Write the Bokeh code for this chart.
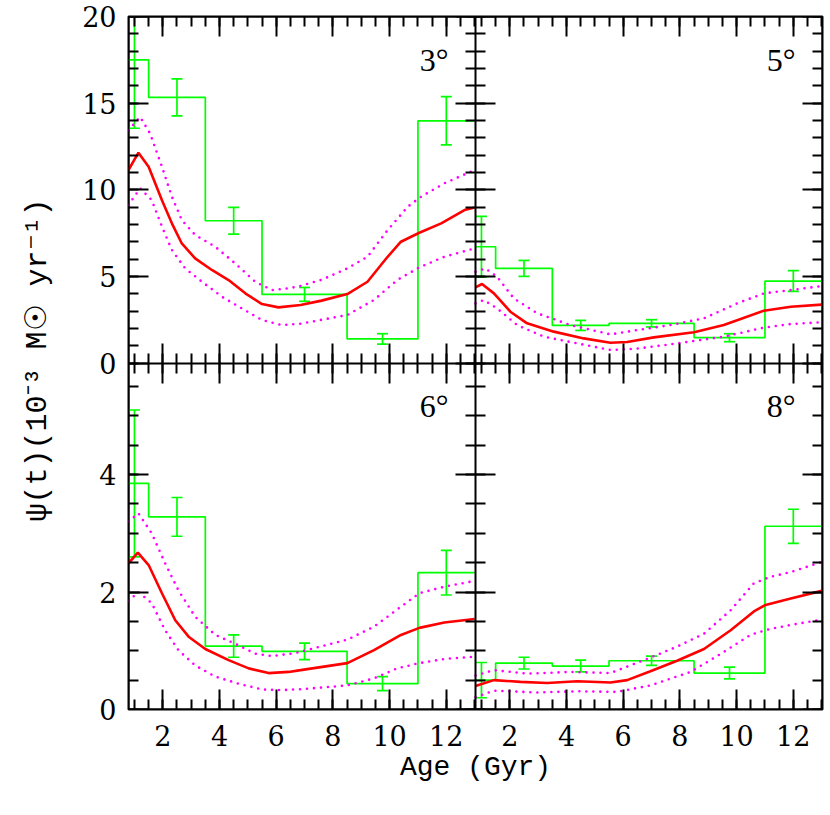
import numpy as np
from bokeh.plotting import figure
from bokeh.models import (Range1d, LinearAxis, SingleIntervalTicker, FixedTicker, Label,
                          CustomJSTickFormatter)
from bokeh.embed import file_html
from bokeh.resources import INLINE

# ---------------- data ----------------
age_min, age_max = 0.79, 13.03
psi_top_max, psi_bottom_max = 20.0, 5.9

x_tick_values = [2, 4, 6, 8, 10, 12]
y_tick_values_top = [0, 5, 10, 15, 20]
y_tick_values_bottom = [0, 2, 4]

bin_edges = [0.5, 1.5, 3.5, 5.5, 8.5, 11.0, 13.0]
bin_centers = [1.0, 2.5, 4.5, 7.0, 9.75, 12.0]

panel_names = ["3°", "5°", "6°", "8°"]

# binned SFR (green histogram) and errors
hist_3 = [17.5, 15.33, 8.21, 3.96, 1.39, 13.98]
err_3 = [3.95, 1.07, 0.77, 0.40, 0.30, 1.39]
hist_5 = [6.71, 5.46, 2.17, 2.29, 1.46, 4.73]
err_5 = [1.75, 0.46, 0.29, 0.21, 0.23, 0.60]
hist_6 = [3.85, 3.28, 1.08, 0.99, 0.44, 2.33]
err_6 = [1.25, 0.33, 0.19, 0.14, 0.12, 0.38]
hist_8 = [0.50, 0.79, 0.74, 0.83, 0.62, 3.12]
err_8 = [0.30, 0.10, 0.10, 0.08, 0.10, 0.29]

# smooth SFR (red) and its bounds (magenta dotted)
sfr3_x = [0.79, 1.14, 1.5, 1.97, 2.32, 2.67, 3.14, 3.73, 4.32, 4.91, 5.5, 6.08, 6.86, 7.6, 8.51, 9.22, 9.93, 10.4, 11.05, 11.82, 12.64, 13.0]
sfr3_y = [11.14, 12.14, 11.33, 9.4, 8.06, 6.9, 6.04, 5.37, 4.79, 4.02, 3.40, 3.21, 3.35, 3.6, 3.98, 4.69, 6.13, 7.0, 7.52, 8.06, 8.83, 8.97]
up3_x = [0.79, 1.2, 1.55, 1.97, 2.32, 2.67, 3.14, 3.85, 4.55, 5.26, 5.85, 6.44, 6.86, 7.6, 8.51, 9.22, 9.93, 10.64, 11.11, 11.93, 13.0]
up3_y = [13.44, 14.2, 13.25, 11.33, 9.6, 8.25, 7.39, 6.71, 5.75, 4.69, 4.21, 4.31, 4.45, 4.8, 5.46, 6.13, 7.67, 9.02, 9.6, 10.37, 11.14]
lo3_x = [0.79, 1.2, 1.61, 1.97, 2.32, 2.79, 3.38, 4.08, 4.79, 5.5, 6.2, 6.86, 8.51, 9.45, 10.27, 11.05, 11.93, 13.0]
lo3_y = [9.12, 10.08, 9.4, 7.87, 6.52, 5.46, 4.69, 3.83, 3.15, 2.48, 2.19, 2.27, 2.77, 3.64, 4.79, 5.52, 6.13, 6.62]

sfr5_x = [0.79, 1.02, 1.44, 2.02, 2.61, 3.55, 4.61, 5.55, 6.14, 7.08, 8.5, 9.55, 10.96, 11.91, 13.0]
sfr5_y = [4.37, 4.56, 4.02, 2.96, 2.29, 1.81, 1.42, 1.17, 1.21, 1.48, 1.77, 2.19, 3.02, 3.25, 3.37]
up5_x = [0.79, 1.14, 1.55, 2.14, 2.97, 4.14, 5.55, 6.49, 7.67, 8.85, 10.02, 10.96, 11.91, 13.0]
up5_y = [5.27, 5.46, 4.98, 3.73, 2.87, 2.19, 1.65, 1.9, 2.19, 2.58, 3.44, 4.02, 4.21, 4.44]
lo5_x = [0.79, 1.08, 1.55, 2.26, 3.2, 4.38, 5.55, 6.49, 7.9, 9.55, 10.96, 11.91, 13.0]
lo5_y = [3.44, 3.63, 3.15, 2.19, 1.52, 1.13, 0.75, 0.83, 1.13, 1.52, 2.04, 2.25, 2.35]

sfr6_x = [0.79, 1.12, 1.5, 1.97, 2.44, 2.91, 3.5, 4.32, 5.03, 5.73, 6.44, 6.86, 8.51, 9.45, 10.4, 11.05, 11.93, 13.0]
sfr6_y = [2.49, 2.67, 2.46, 1.98, 1.52, 1.24, 1.03, 0.84, 0.70, 0.62, 0.64, 0.67, 0.79, 1.01, 1.27, 1.39, 1.48, 1.54]
up6_x = [0.79, 1.14, 1.61, 2.08, 2.55, 3.14, 3.85, 4.55, 5.26, 5.85, 6.67, 7.14, 8.51, 9.45, 10.4, 11.05, 11.93, 13.0]
up6_y = [3.2, 3.34, 3.0, 2.49, 2.03, 1.58, 1.27, 1.12, 0.95, 0.91, 0.96, 1.02, 1.19, 1.41, 1.75, 1.98, 2.09, 2.19]
lo6_x = [0.79, 1.14, 1.61, 2.08, 2.55, 3.14, 3.85, 4.67, 5.5, 6.2, 7.0, 8.51, 9.45, 10.27, 11.05, 11.93, 13.0]
lo6_y = [1.85, 2.0, 1.81, 1.35, 1.01, 0.75, 0.56, 0.44, 0.34, 0.33, 0.35, 0.41, 0.53, 0.70, 0.79, 0.86, 0.90]

sfr8_x = [0.79, 1.44, 2.38, 3.32, 4.38, 5.55, 6.14, 6.96, 7.9, 8.85, 9.79, 10.61, 11.02, 11.91, 13.0]
sfr8_y = [0.40, 0.50, 0.47, 0.45, 0.48, 0.46, 0.50, 0.65, 0.83, 1.03, 1.35, 1.67, 1.78, 1.89, 2.02]
up8_x = [0.79, 1.44, 2.61, 4.14, 5.55, 6.73, 7.9, 8.85, 9.79, 10.61, 11.2, 11.91, 13.0]
up8_y = [0.58, 0.67, 0.61, 0.64, 0.62, 0.84, 1.07, 1.29, 1.69, 2.15, 2.26, 2.34, 2.51]
lo8_x = [0.79, 1.44, 2.97, 4.38, 5.79, 6.96, 8.38, 9.55, 10.49, 11.08, 11.91, 13.0]
lo8_y = [0.21, 0.32, 0.29, 0.31, 0.30, 0.41, 0.64, 0.98, 1.27, 1.36, 1.44, 1.53]

x_label = "Age (Gyr)"
y_label = "ψ(t)(10⁻³ M☉ yr⁻¹)"

# ---------------- style ----------------
GREEN, RED, MAGENTA = "#00ff00", "#ff0000", "#ff00ff"
TICK_FONT = "DejaVu Serif"
PANEL_FONT = "Liberation Serif"
LABEL_FONT = "Liberation Mono"
FRAME_W, FRAME_H = 694, 693
LEFT_B, RIGHT_B, TOP_B, BOT_B = 128, 6, 16, 91

span = age_max - age_min
p = figure(width=LEFT_B + FRAME_W + RIGHT_B, height=TOP_B + FRAME_H + BOT_B,
           x_range=Range1d(0, 2), y_range=Range1d(0, 2),
           x_axis_type=None, y_axis_type=None,
           toolbar_location=None, output_backend="svg",
           min_border_left=LEFT_B, min_border_right=RIGHT_B,
           min_border_top=TOP_B, min_border_bottom=BOT_B)
# each panel gets its own data range inside the shared frame
p.extra_x_ranges = {"L": Range1d(age_min, age_min + 2 * span),
                    "R": Range1d(age_min - span, age_max)}
p.extra_y_ranges = {"T": Range1d(-psi_top_max, psi_top_max),
                    "B": Range1d(0, 2 * psi_bottom_max)}
p.outline_line_color = "black"
p.outline_line_width = 2
p.background_fill_color = "white"
p.border_fill_color = "white"

x_ticker = SingleIntervalTicker(interval=2, num_minor_ticks=4)
yT_ticker = SingleIntervalTicker(interval=5, num_minor_ticks=5)
yB_ticker = SingleIntervalTicker(interval=2, num_minor_ticks=4)
blank = CustomJSTickFormatter(code="return ''")


def tick_axis(side, ticker, loc, bounds, both, xr="default", yr="default"):
    ax = LinearAxis(ticker=ticker, fixed_location=loc, bounds=bounds,
                    x_range_name=xr, y_range_name=yr, formatter=blank)
    ax.axis_line_color = "black"
    ax.axis_line_width = 2
    ax.major_tick_in, ax.minor_tick_in = 20, 10
    ax.major_tick_out, ax.minor_tick_out = (20, 10) if both else (0, 0)
    ax.major_tick_line_width = 2
    ax.minor_tick_line_width = 2
    ax.major_label_standoff = 0
    p.add_layout(ax, side)


# tick marks: outer edges (inward) and the panel dividers (both ways)
for yr, tk, top in (("T", yT_ticker, psi_top_max), ("B", yB_ticker, psi_bottom_max)):
    tick_axis("left", tk, 0, (0, top), False, yr=yr)
    tick_axis("right", tk, 1, (0, top), True, yr=yr)
    tick_axis("right", tk, 2, (0, top), False, yr=yr)
for xr in ("L", "R"):
    tick_axis("below", x_ticker, 0, (age_min, age_max), False, xr=xr)
    tick_axis("above", x_ticker, 1, (age_min, age_max), True, xr=xr)
    tick_axis("above", x_ticker, 2, (age_min, age_max), False, xr=xr)

# tick labels of the outer axes (both panels of a row / column share one axis)
y_pos = [1 + v / psi_top_max for v in y_tick_values_top] + \
        [v / psi_bottom_max for v in y_tick_values_bottom]
y_txt = [str(v) for v in y_tick_values_top] + [str(v) for v in y_tick_values_bottom]
x_pos = [(v - age_min) / span for v in x_tick_values] + \
        [1 + (v - age_min) / span for v in x_tick_values]
x_txt = [str(v) for v in x_tick_values] * 2


def label_axis(side, pos, txt, label, standoff, label_standoff, label_size):
    ax = LinearAxis(ticker=FixedTicker(ticks=pos, minor_ticks=[]),
                    major_label_overrides=dict(zip(pos, txt)), axis_label=label)
    ax.axis_line_color = None
    ax.major_tick_in = ax.major_tick_out = 0
    ax.minor_tick_in = ax.minor_tick_out = 0
    ax.major_tick_line_color = None
    ax.minor_tick_line_color = None
    ax.major_label_text_font = TICK_FONT
    ax.major_label_text_font_size = "27px"
    ax.major_label_text_color = "black"
    ax.major_label_standoff = standoff
    ax.axis_label_standoff = label_standoff
    ax.axis_label_text_font = LABEL_FONT
    ax.axis_label_text_font_size = label_size
    ax.axis_label_text_font_style = "normal"
    ax.axis_label_text_color = "black"
    p.add_layout(ax, side)


label_axis("left", y_pos, y_txt, y_label, 12, 24, "30px")
label_axis("below", x_pos, x_txt, x_label, 15, 3, "28px")

panels = [
    (panel_names[0], "L", "T", hist_3, err_3, (sfr3_x, sfr3_y), (up3_x, up3_y), (lo3_x, lo3_y), 0, 1),
    (panel_names[1], "R", "T", hist_5, err_5, (sfr5_x, sfr5_y), (up5_x, up5_y), (lo5_x, lo5_y), 1, 1),
    (panel_names[2], "L", "B", hist_6, err_6, (sfr6_x, sfr6_y), (up6_x, up6_y), (lo6_x, lo6_y), 0, 0),
    (panel_names[3], "R", "B", hist_8, err_8, (sfr8_x, sfr8_y), (up8_x, up8_y), (lo8_x, lo8_y), 1, 0),
]

edges = np.clip(np.array(bin_edges), age_min, age_max)
for name, xr, yr, hist, err, sfr, up, lo, col, rw in panels:
    h = np.array(hist)
    e = np.array(err)
    rk = dict(x_range_name=xr, y_range_name=yr)
    p.step(edges, list(h) + [h[-1]], mode="after", line_color=GREEN, line_width=1.7, **rk)
    p.segment(bin_centers, h - e, bin_centers, h + e, line_color=GREEN, line_width=1.7, **rk)
    p.scatter(bin_centers, h + e, marker="dash", size=11, line_color=GREEN, line_width=1.7, **rk)
    p.scatter(bin_centers, h - e, marker="dash", size=11, line_color=GREEN, line_width=1.7, **rk)
    for bx, by in (up, lo):
        p.line(bx, by, line_color=MAGENTA, line_width=2.6, line_dash="0 7", line_cap="round", **rk)
    p.line(sfr[0], sfr[1], line_color=RED, line_width=2.6, **rk)
    p.add_layout(Label(x=col + 1 - 27 / (FRAME_W / 2), y=rw + 1 - 43 / (FRAME_H / 2), text=name,
                       text_align="right", text_baseline="middle",
                       text_font=PANEL_FONT, text_font_size="32px", text_color="black"))

open("out.html", "w").write(file_html(p, INLINE))
